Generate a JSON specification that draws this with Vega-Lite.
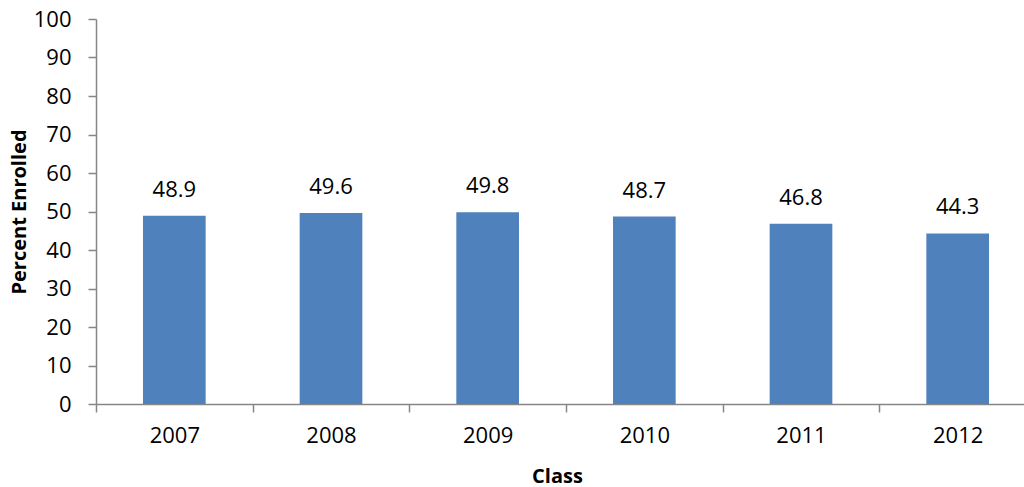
{
  "$schema": "https://vega.github.io/schema/vega-lite/v6.json",
  "autosize": {"type": "none"},
  "width": 928,
  "height": 385,
  "padding": {"left": 96, "top": 19, "right": 0, "bottom": 83},
  "background": "white",
  "config": {
    "view": {"stroke": null},
    "font": "Open Sans",
    "axis": {
      "grid": false,
      "domainColor": "#868686",
      "tickColor": "#868686",
      "labelColor": "#000000",
      "titleColor": "#000000",
      "labelFont": "Open Sans",
      "titleFont": "Open Sans",
      "labelFontSize": 22,
      "titleFontSize": 20,
      "titleFontWeight": "bold",
      "tickSize": 8,
      "domainWidth": 1.5,
      "tickWidth": 1.5
    }
  },
  "data": {
    "values": [
      {"Class": "2007", "Percent": 48.9},
      {"Class": "2008", "Percent": 49.6},
      {"Class": "2009", "Percent": 49.8},
      {"Class": "2010", "Percent": 48.7},
      {"Class": "2011", "Percent": 46.8},
      {"Class": "2012", "Percent": 44.3}
    ]
  },
  "encoding": {
    "x": {
      "field": "Class",
      "type": "nominal",
      "scale": {"range": [0, 940], "paddingInner": 0, "paddingOuter": 0},
      "axis": {
        "labelAngle": 0,
        "tickBand": "extent",
        "labelPadding": 13,
        "title": "Class",
        "titleX": 461,
        "titleY": 78,
        "titleBaseline": "alphabetic",
        "titleAnchor": null
      }
    },
    "y": {
      "field": "Percent",
      "type": "quantitative",
      "scale": {"domain": [0, 100], "nice": false},
      "axis": {
        "values": [0, 10, 20, 30, 40, 50, 60, 70, 80, 90, 100],
        "labelPadding": 17,
        "title": "Percent Enrolled",
        "titleX": -77,
        "titleY": 192.5,
        "titleAngle": -90,
        "titleBaseline": "middle",
        "titleAlign": "center"
      }
    }
  },
  "layer": [
    {
      "mark": {"type": "bar", "color": "#4F81BD", "width": {"band": 0.4}}
    },
    {
      "mark": {"type": "text", "baseline": "alphabetic", "dy": -19, "fontSize": 22, "font": "Open Sans", "color": "#000000"},
      "encoding": {"text": {"field": "Percent", "type": "quantitative", "format": ".1f"}}
    }
  ]
}
